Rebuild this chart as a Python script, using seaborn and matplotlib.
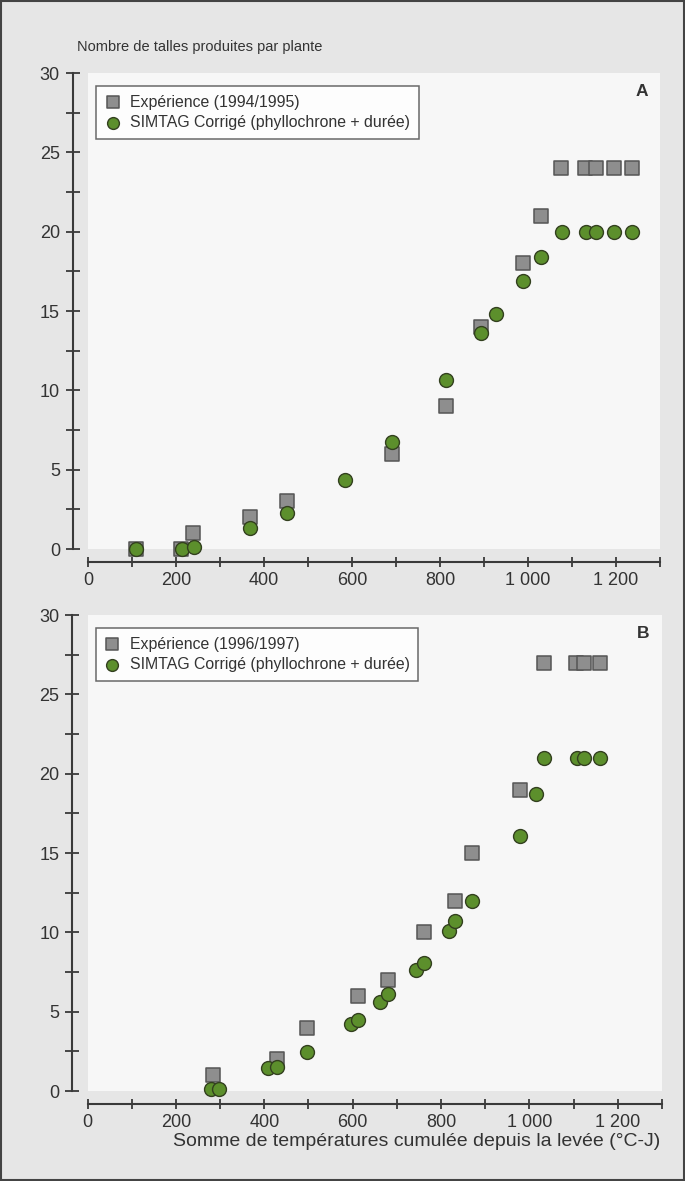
import matplotlib
matplotlib.use("Agg")
import matplotlib.pyplot as plt
import matplotlib.ticker as mticker
from matplotlib.patches import Rectangle
import seaborn as sns
import pandas as pd

# ---------------- data ----------------
a_exp_t = [110, 211, 239, 369, 453, 692, 814, 893, 988, 1029, 1075, 1130, 1155, 1196, 1236]
a_exp_v = [0, 0, 1, 2, 3, 6, 9, 14, 18, 21, 24, 24, 24, 24, 24]
a_sim_t = [110, 213, 240, 369, 453, 583, 692, 814, 893, 927, 988, 1029, 1077, 1132, 1155, 1196, 1236]
a_sim_v = [0, 0, 0.1, 1.35, 2.3, 4.35, 6.75, 10.65, 13.6, 14.8, 16.9, 18.4, 20, 20, 20, 20, 20]

b_exp_t = [283, 428, 496, 613, 679, 761, 832, 871, 979, 1033, 1105, 1124, 1160]
b_exp_v = [1, 2, 4, 6, 7, 10, 12, 15, 19, 27, 27, 27, 27]
b_sim_t = [280, 298, 409, 428, 496, 596, 613, 662, 679, 743, 761, 817, 832, 871, 979, 1015,
           1034, 1107, 1124, 1160]
b_sim_v = [0.1, 0.1, 1.42, 1.5, 2.43, 4.2, 4.5, 5.6, 6.1, 7.64, 8.06, 10.06, 10.7, 12.0, 16.1,
           18.7, 21, 21, 21, 21]

exp_labels = ["Expérience (1994/1995)", "Expérience (1996/1997)"]
sim_label = "SIMTAG Corrigé (phyllochrone + durée)"
panel_letters = ["A", "B"]
x_major = [0, 200, 400, 600, 800, 1000, 1200]
y_major = [0, 5, 10, 15, 20, 25, 30]
y_title = "Nombre de talles produites par plante"
x_title = "Somme de températures cumulée depuis la levée (°C-J)"

# ---------------- style ----------------
sns.set_theme(style="white")
plt.rcParams["font.family"] = ["Liberation Sans", "DejaVu Sans"]

W, H = 685, 1181
DPI = 100
BG = "#e6e6e6"
PANEL = "#f7f7f7"
TXT = "#333333"
AX = "#3a3a3a"
SQ_FACE = "#8e8e8e"
SQ_EDGE = "#555555"
GR_FACE = "#5c8f2c"
GR_EDGE = "#33401f"

fig = plt.figure(figsize=(W / DPI, H / DPI), dpi=DPI, facecolor=BG)


def fx(px):
    return px / W


def fy(py):
    return 1 - py / H


# axes rectangles in pixel coordinates (left, right, top, bottom)
boxes = [(88, 660, 73, 549), (87.5, 662, 615, 1091)]

datasets = [
    (a_exp_t, a_exp_v, a_sim_t, a_sim_v),
    (b_exp_t, b_exp_v, b_sim_t, b_sim_v),
]

for i, (l, r, t, b) in enumerate(boxes):
    ax = fig.add_axes([fx(l), fy(b), fx(r) - fx(l), fy(t) - fy(b)])
    ax.set_facecolor(PANEL)
    et, ev, st, sv = datasets[i]
    df_e = pd.DataFrame({"t": et, "v": ev})
    df_s = pd.DataFrame({"t": st, "v": sv})
    sns.scatterplot(data=df_e, x="t", y="v", ax=ax, marker="s", s=90,
                    color=SQ_FACE, edgecolor=SQ_EDGE, linewidth=1.1,
                    label=exp_labels[i], clip_on=False, zorder=3)
    sns.scatterplot(data=df_s, x="t", y="v", ax=ax, marker="o", s=100,
                    color=GR_FACE, edgecolor=GR_EDGE, linewidth=1.0,
                    label=sim_label, clip_on=False, zorder=4)
    ax.set_xlim(0, 1300)
    ax.set_ylim(0, 30)
    ax.set_xlabel("")
    ax.set_ylabel("")

    sns.despine(ax=ax, offset={"left": 11, "bottom": 9.5})
    for side in ("left", "bottom"):
        ax.spines[side].set_color(AX)
        ax.spines[side].set_linewidth(1.5)
    ax.spines["bottom"].set_bounds(0, 1300)
    ax.spines["left"].set_bounds(0, 30)

    ax.set_xticks(x_major)
    ax.xaxis.set_minor_locator(mticker.FixedLocator([100, 300, 500, 700, 900, 1100, 1300]))
    ax.xaxis.set_major_formatter(mticker.FuncFormatter(
        lambda v, p: f"{int(v):,}".replace(",", " ")))
    ax.set_yticks(y_major)
    ax.yaxis.set_minor_locator(mticker.MultipleLocator(2.5))
    ax.tick_params(axis="both", which="both", direction="inout", color=AX,
                   width=1.3, labelcolor=TXT, labelsize=13)
    ax.tick_params(axis="x", which="both", length=7.5, pad=3.3, bottom=True)
    ax.tick_params(axis="y", which="both", length=9.5, pad=4.5, left=True)
    ax.grid(False)

    leg = ax.legend(loc="upper left", bbox_to_anchor=(0.014, 0.973), frameon=True,
                    fancybox=False, shadow=False, fontsize=11.4, handletextpad=0.6,
                    handlelength=1.0, borderpad=0.55, labelspacing=0.37,
                    borderaxespad=0.0, markerscale=0.85)
    leg.get_frame().set_edgecolor("#444444")
    leg.get_frame().set_linewidth(1.1)
    leg.get_frame().set_facecolor("white")
    for txt in leg.get_texts():
        txt.set_color(TXT)

    ax.text(0.968, 0.962, panel_letters[i], transform=ax.transAxes, ha="center",
            va="center", fontsize=12.5, fontweight="bold", color=TXT)

fig.text(fx(77), fy(47), y_title, ha="left", va="center", fontsize=10.5, color=TXT)
fig.text(fx(660), fy(1141), x_title, ha="right", va="center", fontsize=14.0, color=TXT)

# outer frame
fig.patches.append(Rectangle((0.002, 0.001), 0.996, 0.998, transform=fig.transFigure,
                             fill=False, edgecolor="#444444", linewidth=1.5))

fig.savefig("out.png", dpi=DPI, facecolor=BG)
